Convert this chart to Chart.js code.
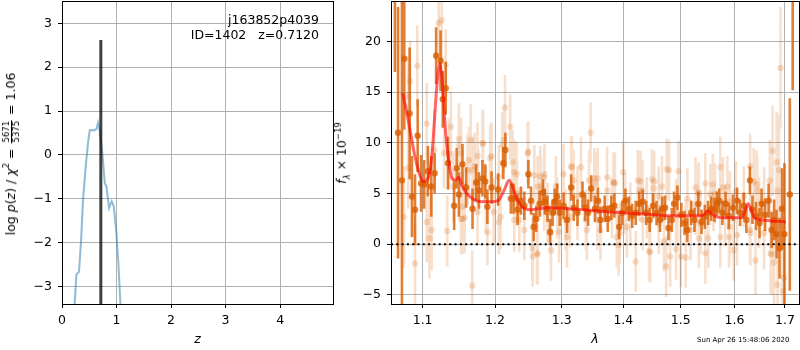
<!DOCTYPE html>
<html>
<head>
<meta charset="utf-8">
<script src="https://cdn.jsdelivr.net/npm/chart.js@4.4.0/dist/chart.umd.min.js"></script>
<style>
  body { margin: 0; background: #fff; width: 800px; height: 350px; position: relative; overflow: hidden; font-family: 'DejaVu Sans'; color: #000; }
  canvas { position: absolute; top: 0; }
  .txt { position: absolute; white-space: nowrap; font-size: 12.5px; line-height: 15px; }
  .ylab { position: absolute; white-space: nowrap; font-size: 12.5px; line-height: 1; transform: translate(-50%, -50%) rotate(-90deg); }
  .frac { display: inline-block; vertical-align: middle; text-align: center; font-size: 8.5px; line-height: 1; margin: 0 1px; }
  .frac span { display: block; padding: 0 1px; }
  .frac span:first-child { border-bottom: 1px solid #000; }
  sup, sub { font-size: 8.5px; line-height: 0; }
  #stamp { position: absolute; left: 697px; top: 336px; font-size: 7px; line-height: 8px; white-space: nowrap; }
</style>
</head>
<body>
<canvas id="pz" width="335" height="350" style="left:0"></canvas>
<canvas id="spec" width="465" height="350" style="left:335px"></canvas>

<div class="txt" style="right:481px; top:12px; text-align:right">j163852p4039</div>
<div class="txt" style="right:481px; top:27px; text-align:right">ID=1402&nbsp;&nbsp;&nbsp;z=0.7120</div>
<div class="ylab" style="left:11px; top:154px">log <i>p</i>(<i>z</i>) / <i>χ</i><sup>2</sup> = <span class="frac"><span>5671</span><span>5375</span></span> = 1.06</div>
<div class="ylab" style="left:342px; top:153px"><i>f</i><sub><i>λ</i></sub> × 10<sup>−19</sup></div>
<div id="stamp">Sun Apr 26 15:48:06 2020</div>

<script>
// p(z) panel
const pzZ = [0.20, 0.233, 0.264, 0.312, 0.35, 0.386, 0.435, 0.477, 0.508, 0.55, 0.587, 0.631, 0.661, 0.692, 0.741, 0.784, 0.815, 0.863, 0.912, 0.949, 0.998, 1.035, 1.071, 1.10];
const pzLogp = [-4.5, -3.38, -2.73, -2.66, -1.95, -1.02, -0.26, 0.27, 0.56, 0.57, 0.56, 0.59, 0.73, 0.55, 0.03, -0.64, -0.72, -1.21, -1.06, -1.17, -1.78, -2.5, -3.38, -4.2];
const zBest = 0.712;
const zBarRange = [-10, 2.62];
const pzXTicks = [0, 1, 2, 3, 4];
const pzYTicks = [-3, -2, -1, 0, 1, 2, 3];

// spectrum panel: good pixels (dark)
const darkLam = [1.064, 1.068, 1.073, 1.076, 1.083, 1.086, 1.090, 1.0935, 1.098, 1.102, 1.107, 1.1115, 1.116, 1.118, 1.124, 1.127, 1.131, 1.134, 1.1425, 1.146,
  1.149, 1.154, 1.159, 1.168, 1.173, 1.177, 1.182, 1.186, 1.189, 1.195, 1.2045, 1.212, 1.215, 1.223, 1.227, 1.233, 1.238, 1.243, 1.249, 1.253,
  1.257, 1.261, 1.266, 1.271, 1.274, 1.278, 1.282, 1.286, 1.289, 1.293, 1.297, 1.303, 1.3085, 1.315, 1.319, 1.325, 1.333, 1.337, 1.342, 1.347,
  1.353, 1.358, 1.362, 1.369, 1.374, 1.380, 1.385, 1.393, 1.398, 1.4035, 1.4095, 1.415, 1.421, 1.427, 1.433, 1.439, 1.445, 1.451, 1.457, 1.463,
  1.467, 1.472, 1.478, 1.484, 1.488, 1.494, 1.501, 1.507, 1.512, 1.519, 1.525, 1.532, 1.538, 1.544, 1.550, 1.556, 1.562, 1.567, 1.571, 1.577,
  1.583, 1.589, 1.597, 1.605, 1.611, 1.618, 1.623, 1.630, 1.635, 1.642, 1.649, 1.653, 1.660, 1.667, 1.673, 1.678, 1.683, 1.689, 1.694, 1.699,
  1.710, 1.716];
const darkFlux = [25, 11.0, 6.3, 18.3, 12.9, 4.7, 3.4, 10.7, 6.0, 5.9, 7.2, 5.7, 7.0, 18.6, 18.1, 14.3, 15.4, 8.0, 3.8, 7.5,
  4.9, 7.9, 5.6, 3.5, 6.1, 5.3, 6.5, 6.2, 3.7, 5.6, 5.4, 8.0, 9.3, 4.5, 4.5, 3.4, 4.3, 3.8, 6.9, 4.3,
  1.7, 2.5, 4.0, 5.1, 4.2, 3.5, 1.2, 3.1, 4.2, 4.7, 3.1, 3.8, 2.4, 5.6, 3.6, 3.1, 4.9, 3.6, 3.1, 5.5,
  3.5, 4.3, 2.4, 3.5, 2.5, 3.6, 3.8, 1.7, 3.1, 4.3, 3.5, 2.8, 3.1, 4.0, 4.2, 3.1, 2.4, 3.8, 3.1, 2.4,
  3.5, 3.6, 1.6, 2.4, 4.0, 4.6, 2.9, 2.1, 1.4, 3.1, 2.4, 4.0, 2.2, 2.7, 3.1, 3.5, 3.4, 4.0, 4.3, 3.1,
  4.0, 2.8, 3.6, 4.3, 3.1, 3.8, 2.4, 6.3, 3.4, 2.8, 2.1, 4.0, 2.9, 4.3, 1.4, 2.4, 1.0, -0.4, 3.5, 1.0,
  4.9, 30];
const darkErr = [8, 12.4, 25, 7, 6.5, 4, 3.5, 3.6, 2.8, 2.4, 2.5, 3.0, 2.0, 2.8, 3.0, 2.8, 2.6, 2.6, 2.4, 2.0,
  2.2, 2.0, 2.0, 2.0, 1.8, 1.8, 1.8, 1.7, 1.7, 1.6, 1.6, 1.6, 1.7, 1.5, 1.5, 1.5, 1.4, 1.4, 1.4, 1.4,
  1.4, 1.3, 1.3, 1.3, 1.3, 1.3, 1.3, 1.3, 1.3, 1.3, 1.3, 1.3, 1.3, 1.3, 1.3, 1.3, 1.3, 1.3, 1.3, 1.3,
  1.3, 1.3, 1.3, 1.3, 1.3, 1.2, 1.2, 1.2, 1.2, 1.2, 1.2, 1.2, 1.2, 1.2, 1.2, 1.2, 1.2, 1.2, 1.2, 1.2,
  1.2, 1.2, 1.2, 1.2, 1.2, 1.2, 1.2, 1.2, 1.2, 1.2, 1.2, 1.2, 1.2, 1.2, 1.2, 1.2, 1.2, 1.2, 1.2, 1.2,
  1.2, 1.3, 1.3, 1.3, 1.3, 1.3, 1.3, 1.4, 1.4, 1.4, 1.5, 1.5, 1.6, 1.7, 1.8, 2.0, 2.4, 3.0, 4.0, 7,
  9.5, 14.8];

// spectrum panel: other pixels (light)
const lightLam = [1.0755, 1.081, 1.081, 1.0835, 1.090, 1.093, 1.1055, 1.1055, 1.109, 1.112, 1.1155, 1.1215, 1.1255, 1.131, 1.133, 1.1355, 1.138, 1.1415, 1.149, 1.154,
  1.157, 1.161, 1.1655, 1.1675, 1.171, 1.175, 1.182, 1.187, 1.189, 1.195, 1.198, 1.2055, 1.213, 1.2145, 1.222, 1.2255, 1.228, 1.2315, 1.243, 1.248,
  1.255, 1.2555, 1.262, 1.263, 1.267, 1.273, 1.2735, 1.278, 1.283, 1.2835, 1.293, 1.303, 1.313, 1.315, 1.319, 1.325, 1.3305, 1.3385, 1.340, 1.3435,
  1.346, 1.354, 1.3575, 1.362, 1.373, 1.381, 1.3835, 1.386, 1.392, 1.394, 1.403, 1.412, 1.421, 1.429, 1.4325, 1.44, 1.444, 1.453, 1.4605, 1.461,
  1.470, 1.474, 1.479, 1.481, 1.4915, 1.494, 1.496, 1.5, 1.509, 1.518, 1.527, 1.532, 1.533, 1.545, 1.5505, 1.554, 1.559, 1.56, 1.573, 1.582,
  1.5865, 1.5895, 1.591, 1.6025, 1.605, 1.618, 1.630, 1.6305, 1.641, 1.643, 1.648, 1.658, 1.6695, 1.673, 1.675, 1.678, 1.683, 1.685, 1.688, 1.691,
  1.695, 1.698];
const lightFlux = [2.7, 14.6, 7.5, 16.1, -1.9, 17.6, 2.2, 11.9, 0.6, 1.4, 9.3, 21.8, 22.1, 17.7, 1.3, 8.9, 11.6, 5.7, 9.7, 2.5,
  2.6, 7.3, 10.3, -4.1, 7.7, 8.7, 10.0, 4.4, 1.2, 8.7, 3.2, 2.2, 10.3, 13.5, 11.6, 8.1, 2.4, 6.9, 1.4, 9.0,
  -0.4, -1.2, -0.9, 5.7, 6.7, 4.3, 6.9, 3.1, 1.1, -0.6, 3.6, 6.9, 2.7, 7.7, 6.3, 4.7, 7.6, 2.4, 1.4, 6.3,
  11.0, 6.0, 6.5, 1.4, 5.3, 3.6, 6.1, 6.0, -0.1, 1.1, 4.0, 3.1, -1.7, 6.2, 5.3, 3.6, -0.7, 6.2, 4.7, 3.6,
  0.3, -2.2, 7.3, -1.2, -0.5, 2.8, 7.2, -1.2, -1.3, 1.4, 5.6, 5.0, 0.6, 6.0, 0.6, 4.9, 5.9, 4.3, 7.6, 2.8,
  5.7, 0.7, 4.2, 5.2, 0.9, 4.7, 1.4, 7.7, -1.6, 5.9, 3.1, 1.1, 6.3, -1.0, 9.2, -1.8, 8.1, -4.0, 7.3, 17.4,
  -4.6, -3.3];
const lightErr = [5, 4, 4, 4, 4, 4, 4, 4, 4, 4, 4, 4, 4, 3.5, 3.5, 3.5, 3.5, 3.5, 3.5, 3.5,
  3.5, 3.5, 3.5, 3.5, 3.3, 3.3, 3.3, 3.3, 3.3, 3.3, 3.3, 3.2, 3.2, 3.2, 3.2, 3.2, 3.2, 3.2, 3, 3,
  3, 3, 3, 3, 3, 3, 3, 3, 3, 3, 3, 3, 3, 3, 3, 3, 3, 3, 3, 3,
  3, 3, 3, 3, 3, 3, 3, 3, 3, 3, 3, 3, 3, 3, 3, 3, 3, 3, 3, 3,
  3, 3, 3, 3, 3, 3, 3, 3, 3, 3, 3, 3, 3, 3, 3, 3, 3, 3, 3, 3,
  3, 3, 3, 3, 3, 3, 3.2, 3.2, 3.4, 3.4, 3.5, 3.6, 4, 4, 4.5, 4.5, 5, 5, 5.5, 6,
  6, 6];

// more light pixels in the dense band
const lightLamB = [1.1286, 1.149, 1.152, 1.163, 1.168, 1.176, 1.183, 1.193, 1.2055, 1.2105, 1.228, 1.232, 1.249, 1.258, 1.268, 1.273, 1.291, 1.296, 1.3085, 1.316,
  1.325, 1.352, 1.357, 1.373, 1.384, 1.389, 1.152, 1.154, 1.175, 1.208, 1.2355, 1.263, 1.306, 1.4, 1.4245, 1.4275, 1.449, 1.452, 1.4665, 1.475,
  1.4915, 1.512, 1.527, 1.533, 1.563, 1.578, 1.6375, 1.6445, 1.658, 1.685, 1.446, 1.545, 1.573, 1.5985, 1.671, 1.406, 1.433, 1.461, 1.509, 1.536,
  1.591, 1.631];
const lightFluxB = [9.0, 10.4, 9.0, 8.3, 7.3, 6.1, 9.9, 8.5, 6.6, 9.8, 7.1, 5.0, 9.1, 6.8, 5.7, 6.6, 5.7, 1.2, 0.7, 7.6,
  3.4, 6.5, 2.4, 6.6, 6.1, 0.7, 2.5, 3.7, 3.2, 2.7, 2.4, -1.0, 2.4, 7.1, 6.3, 5.3, 6.4, 5.5, 5.7, 7.4,
  3.4, 4.5, 3.9, 5.1, 5.0, 5.6, 6.2, 5.3, 4.0, 5.3, -0.8, -0.9, 0.7, -0.6, -0.9, 1.7, 2.4, 2.0, 1.4, 2.0,
  1.7, 1.1];
const lightErrB = [3.5, 3.5, 3.5, 3.3, 3.3, 3.3, 3.3, 3.3, 3.2, 3.2, 3.2, 3.2, 3, 3, 3, 3, 3, 3, 3, 3,
  3, 3, 3, 3, 3, 3, 3.5, 3.5, 3.3, 3.2, 3.2, 3, 3, 3, 3, 3, 3, 3, 3, 3,
  3, 3, 3, 3, 3, 3, 3.3, 3.4, 3.6, 4.5, 3, 3, 3, 3, 4, 3, 3, 3, 3, 3,
  3, 3.2];

// best-fit model
const modelLam = [1.074, 1.0796, 1.085, 1.089, 1.0935, 1.098, 1.102, 1.107, 1.1105, 1.114, 1.1175, 1.121, 1.123, 1.1255, 1.128, 1.131, 1.135, 1.139, 1.144, 1.149,
  1.153, 1.160, 1.170, 1.181, 1.195, 1.2045, 1.213, 1.2205, 1.2255, 1.2305, 1.238, 1.253, 1.263, 1.283, 1.3085, 1.335, 1.373, 1.431, 1.4915, 1.533,
  1.542, 1.550, 1.557, 1.566, 1.5835, 1.613, 1.6195, 1.626, 1.6325, 1.639, 1.653, 1.676, 1.702];
const modelFlux = [14.9, 12.9, 10.6, 9.0, 7.5, 6.5, 6.2, 6.5, 7.6, 10.3, 14.2, 17.2, 17.8, 16.7, 14.2, 10.9, 8.3, 6.6, 6.3, 6.6,
  5.8, 5.0, 4.4, 4.2, 4.2, 4.3, 5.3, 6.3, 5.7, 4.7, 3.8, 3.4, 3.5, 3.6, 3.5, 3.4, 3.2, 3.0, 2.8, 2.8,
  2.9, 3.3, 3.0, 2.7, 2.6, 2.6, 3.1, 4.0, 3.4, 2.6, 2.4, 2.3, 2.2];

const specXRange = [1.059, 1.729];
const specYRange = [-5.9, 24];
const specXTicks = [1.1, 1.2, 1.3, 1.4, 1.5, 1.6, 1.7];
const specYTicks = [-5, 0, 5, 10, 15, 20];

const tickFont = { family: "'DejaVu Sans'", size: 12.5 };
const labFont = { family: "'DejaVu Sans'", size: 12.5, style: 'italic' };

const allLightLam = lightLam.concat(lightLamB);
const allLightFlux = lightFlux.concat(lightFluxB);
const allLightErr = lightErr.concat(lightErrB);

function fmtTick(v) {
  return v < 0 ? '\u2212' + Math.abs(v) : String(v);
}

function errorSegments(lam, flux, err) {
  const pts = [];
  lam.forEach((l, i) => {
    pts.push({ x: l, y: flux[i] - err[i] }, { x: l, y: flux[i] + err[i] }, { x: l, y: null });
  });
  return pts;
}

const frame = {
  id: 'frame',
  afterDraw(chart) {
    const { ctx, chartArea: a } = chart;
    const l = Math.round(a.left), t = Math.round(a.top), r = Math.round(a.right), b = Math.round(a.bottom);
    ctx.save();
    ctx.strokeStyle = '#000';
    ctx.lineWidth = 1;
    ctx.strokeRect(l + 0.5, t + 0.5, r - l, b - t);
    ctx.restore();
  }
};

// x axis: fixed height, no side padding; y axis: fixed width, no top/bottom padding
function xAxis(ticks, fmt, extra) {
  return Object.assign({
    afterBuildTicks: s => { s.ticks = ticks.map(v => ({ value: v })); },
    afterFit: s => { s.height = 46; s.paddingLeft = 0; s.paddingRight = 0; },
    grid: { color: '#b0b0b0', lineWidth: 1, tickColor: '#000', tickLength: 4 },
    border: { display: false },
    ticks: { font: tickFont, color: '#000', autoSkip: false, maxRotation: 0, padding: 5, callback: fmt }
  }, extra);
}

function yAxis(ticks, width, extra) {
  return Object.assign({
    afterBuildTicks: s => { s.ticks = ticks.map(v => ({ value: v })); },
    afterFit: s => { s.width = width; s.paddingTop = 0; s.paddingBottom = 0; },
    grid: { color: '#b0b0b0', lineWidth: 1, tickColor: '#000', tickLength: 4 },
    border: { display: false },
    ticks: { font: tickFont, color: '#000', autoSkip: false, padding: 6, callback: v => fmtTick(v) }
  }, extra);
}

new Chart(document.getElementById('pz'), {
  type: 'line',
  data: {
    datasets: [
      {
        data: zBarRange.map(y => ({ x: zBest, y: y })),
        borderColor: 'rgba(0,0,0,0.75)', borderWidth: 3, pointRadius: 0, order: 0, clip: 0
      },
      {
        data: pzZ.map((z, i) => ({ x: z, y: pzLogp[i] })),
        borderColor: 'rgba(31,119,180,0.5)', borderWidth: 2, pointRadius: 0, order: 1, clip: 0
      }
    ]
  },
  options: {
    responsive: false,
    animation: false,
    layout: { autoPadding: false, padding: { top: 1, right: 2, left: 0, bottom: 0 } },
    plugins: { legend: { display: false }, tooltip: { enabled: false } },
    scales: {
      x: xAxis(pzXTicks, v => fmtTick(v), {
        type: 'linear', min: 0, max: 4.97,
        title: { display: true, text: 'z', font: labFont, color: '#000', padding: { top: 0, bottom: 2.5 } }
      }),
      y: yAxis(pzYTicks, 62, { type: 'linear', min: -3.4, max: 3.51 })
    }
  },
  plugins: [frame]
});

new Chart(document.getElementById('spec'), {
  type: 'line',
  data: {
    datasets: [
      {
        data: specXRange.map(x => ({ x: x, y: 0 })),
        borderColor: '#000', borderWidth: 2, borderDash: [2, 3.3], pointRadius: 0, order: 0, clip: 0
      },
      {
        data: modelLam.map((l, i) => ({ x: l, y: modelFlux[i] })),
        borderColor: 'rgba(255,0,0,0.6)', borderWidth: 3, pointRadius: 0,
        cubicInterpolationMode: 'monotone', order: 1, clip: 0
      },
      {
        data: darkLam.map((l, i) => ({ x: l, y: darkFlux[i] })),
        showLine: false, pointRadius: 3.2, pointBorderWidth: 0,
        pointBackgroundColor: 'rgba(217,95,2,0.8)', order: 2, clip: 0
      },
      {
        data: errorSegments(darkLam, darkFlux, darkErr),
        borderColor: 'rgba(217,95,2,0.8)', borderWidth: 2.6, pointRadius: 0, spanGaps: false, order: 3, clip: 0
      },
      {
        data: allLightLam.map((l, i) => ({ x: l, y: allLightFlux[i] })),
        showLine: false, pointRadius: 3.2, pointBorderWidth: 0,
        pointBackgroundColor: 'rgba(217,95,2,0.2)', order: 4, clip: 0
      },
      {
        data: errorSegments(allLightLam, allLightFlux, allLightErr),
        borderColor: 'rgba(217,95,2,0.2)', borderWidth: 2.6, pointRadius: 0, spanGaps: false, order: 5, clip: 0
      }
    ]
  },
  options: {
    responsive: false,
    animation: false,
    layout: { autoPadding: false, padding: { top: 1, right: 1, left: 0, bottom: 0 } },
    plugins: { legend: { display: false }, tooltip: { enabled: false } },
    scales: {
      x: xAxis(specXTicks, v => v.toFixed(1), {
        type: 'logarithmic', min: specXRange[0], max: specXRange[1],
        title: { display: true, text: 'λ', font: labFont, color: '#000', padding: { top: 0, bottom: 2.5 } }
      }),
      y: yAxis(specYTicks, 56, { type: 'linear', min: specYRange[0], max: specYRange[1] })
    }
  },
  plugins: [frame]
});
</script>
</body>
</html>
